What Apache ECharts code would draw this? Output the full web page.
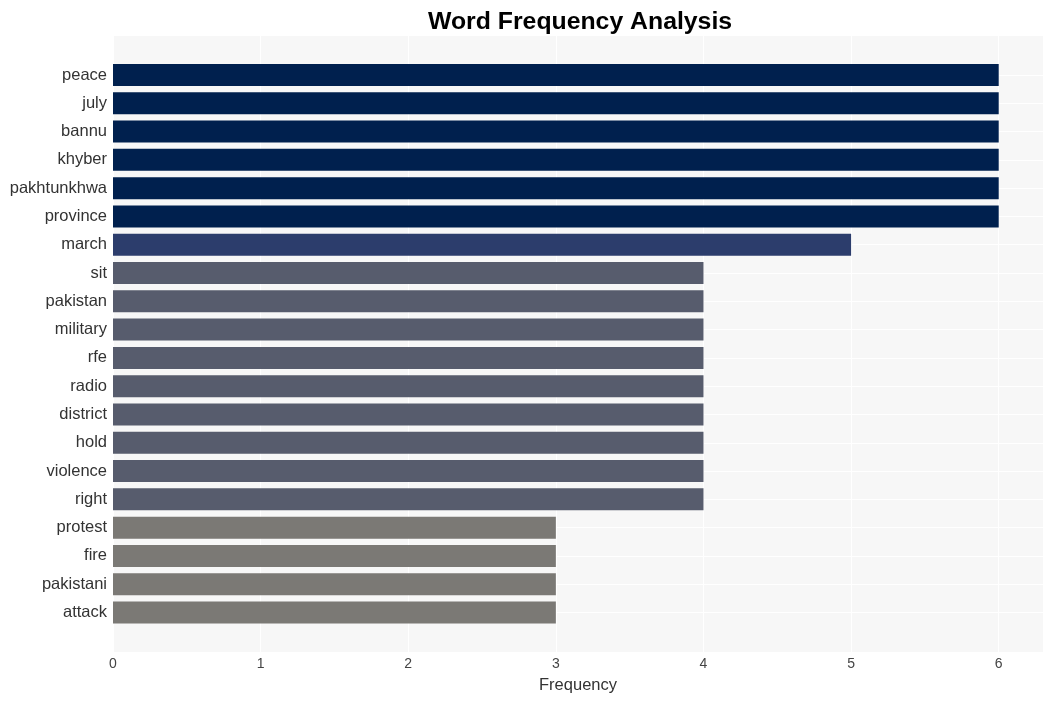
<!DOCTYPE html>
<html><head><meta charset="utf-8">
<script src="https://cdn.jsdelivr.net/npm/echarts@6/dist/echarts.min.js"></script>
<style>html,body{margin:0;padding:0;background:#fff}#c{width:1052px;height:701px}</style>
</head><body><div id="c"></div>
<script>
const categories = ['peace','july','bannu','khyber','pakhtunkhwa','province','march','sit','pakistan','military','rfe','radio','district','hold','violence','right','protest','fire','pakistani','attack'];
const frequencies = [6,6,6,6,6,6,5,4,4,4,4,4,4,4,4,4,3,3,3,3];
const xTicks = [0,1,2,3,4,5,6];
const colorByValue = {6:'#00204E',5:'#2C3D6C',4:'#575C6D',3:'#7B7975'};

const chart = echarts.init(document.getElementById('c'), null, {renderer:'canvas'});
chart.setOption({
  animation:false,
  title:{text:'Word Frequency Analysis',left:423,top:5,textStyle:{fontFamily:'Liberation Sans, Arial',fontWeight:'bold',fontSize:24.8,color:'#000'}},
  grid:[
    {left:113,right:9,top:36,bottom:49,show:true,backgroundColor:'#F7F7F7',borderWidth:0},
    {left:113,right:9,top:75,bottom:88.5,show:false}
  ],
  xAxis:[
    {gridIndex:0,type:'value',min:0,max:6.3,interval:1,
     axisLine:{show:false},axisTick:{show:false},
     axisLabel:{showMaxLabel:false,color:'#444444',fontSize:14,fontFamily:'Liberation Sans, Arial',margin:5,
       formatter:v=>xTicks.includes(v)?String(v):''},
     splitLine:{show:true,lineStyle:{color:'#FFFFFF',width:1.2}},
     name:'Frequency',nameLocation:'middle',nameGap:25,
     nameTextStyle:{color:'#333',fontSize:16.5,fontFamily:'Liberation Sans, Arial'}},
    {gridIndex:1,type:'value',min:0,max:6.3,show:false,splitLine:{show:false}}
  ],
  yAxis:[
    {gridIndex:0,type:'value',show:false,splitLine:{show:false}},
    {gridIndex:1,type:'category',data:categories,inverse:true,boundaryGap:false,
     axisLine:{show:false},axisTick:{show:false},
     axisLabel:{color:'#333',fontSize:16.5,fontFamily:'Liberation Sans, Arial',margin:6,padding:[7,0,0,0]},
     splitLine:{show:true,lineStyle:{color:'#FFFFFF',width:1.2}}}
  ],
  series:[{
    type:'bar',xAxisIndex:1,yAxisIndex:1,barWidth:22,clip:false,
    data:frequencies.map(v=>({value:v,itemStyle:{color:colorByValue[v]}}))
  }]
});
</script></body></html>
